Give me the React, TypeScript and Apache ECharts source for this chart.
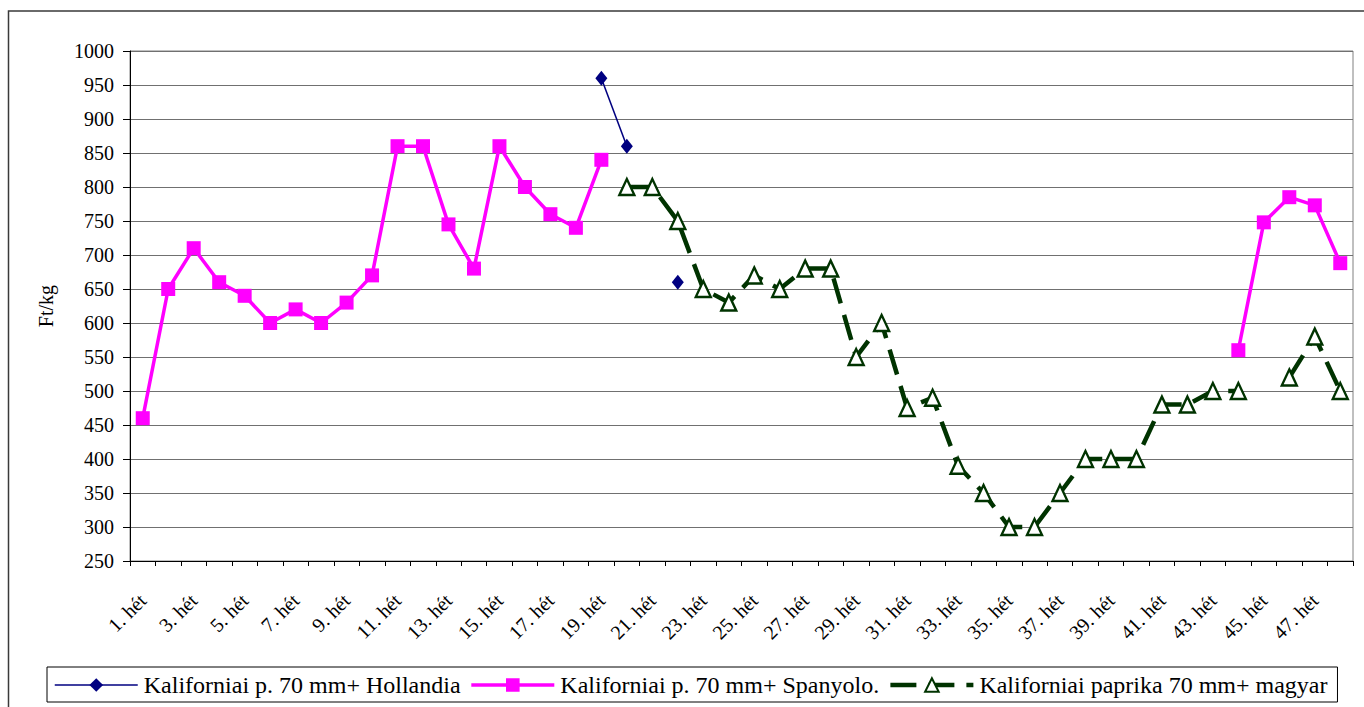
import React, { useEffect, useRef } from "react";
import * as echarts from "echarts";

const weeks: string[] = Array.from({ length: 48 }, (_, i) => `${i + 1}. hét`);

const hollandia: (number | null)[] = [
  null, null, null, null, null, null, null, null, null, null, null, null,
  null, null, null, null, null, null, 960, 860, null, 660, null, null,
  null, null, null, null, null, null, null, null, null, null, null, null,
  null, null, null, null, null, null, null, null, null, null, null, null,
];

const spanyolo: (number | null)[] = [
  460, 650, 710, 660, 640, 600, 620, 600, 630, 670, 860, 860,
  745, 680, 860, 800, 760, 740, 840, null, null, null, null, null,
  null, null, null, null, null, null, null, null, null, null, null, null,
  null, null, null, null, null, null, null, 560, 748, 785, 773, 688,
];

const magyar: (number | null)[] = [
  null, null, null, null, null, null, null, null, null, null, null, null,
  null, null, null, null, null, null, null, 800, 800, 750, 650, 630,
  670, 650, 680, 680, 550, 600, 475, 490, 390, 350, 300, 300,
  350, 400, 400, 400, 480, 480, 500, 500, null, 520, 580, 500,
];

const seriesNames = [
  "Kaliforniai p. 70 mm+ Hollandia",
  "Kaliforniai p. 70 mm+ Spanyolo.",
  "Kaliforniai paprika 70 mm+ magyar",
];

const FONT = "Liberation Serif";

export default function App() {
  const ref = useRef<HTMLDivElement>(null);
  useEffect(() => {
    if (!ref.current) return;
    const chart = echarts.init(ref.current, undefined, { renderer: "svg" });
    chart.setOption({
      animation: false,
      backgroundColor: "#ffffff",
      textStyle: { fontFamily: FONT, color: "#000" },
      graphic: [
        {
          type: "rect",
          shape: { x: 8.5, y: 11, width: 1400, height: 720 },
          style: { fill: "none", stroke: "#3a3a3a", lineWidth: 1.5 },
          silent: true,
        },
      ],
      grid: {
        left: 130,
        top: 51,
        right: 11,
        bottom: 146,
        show: true,
        borderColor: "#808080",
        borderWidth: 1,
      },
      legend: {
        left: 47,
        top: 667,
        padding: [6, 10, 5, 7],
        itemGap: 9,
        itemWidth: 83,
        itemHeight: 17,
        borderColor: "#000",
        borderWidth: 1,
        lineStyle: { width: "inherit", type: "inherit" },
        textStyle: { fontFamily: FONT, fontSize: 24, color: "#000", padding: [0, 0, 0, 1] },
        data: seriesNames,
      },
      xAxis: {
        type: "category",
        data: weeks,
        boundaryGap: true,
        axisLine: { lineStyle: { color: "#000", width: 1 } },
        axisTick: { show: true, interval: 0, length: 5, lineStyle: { color: "#000" } },
        axisLabel: {
          interval: 1,
          rotate: 45,
          margin: 36,
          fontFamily: FONT,
          fontSize: 20,
          color: "#000",
        },
        splitLine: { show: false },
      },
      yAxis: {
        type: "value",
        min: 250,
        max: 1000,
        interval: 50,
        name: "Ft/kg",
        nameLocation: "middle",
        nameRotate: 90,
        nameGap: 74,
        nameTextStyle: { fontFamily: FONT, fontSize: 20, color: "#000" },
        axisLine: { show: true, lineStyle: { color: "#000", width: 1 } },
        axisTick: { show: true, length: 7, lineStyle: { color: "#000" } },
        axisLabel: {
          fontFamily: FONT,
          fontSize: 20,
          color: "#000",
          margin: 16,
          formatter: (v: number) => String(v),
        },
        splitLine: { show: true, lineStyle: { color: "#707070", width: 1 } },
      },
      series: [
        {
          name: seriesNames[0],
          type: "line",
          data: hollandia,
          connectNulls: false,
          symbol: "diamond",
          symbolSize: [12, 15],
          lineStyle: { color: "#000080", width: 1.5 },
          itemStyle: { color: "#000080" },
          z: 3,
        },
        {
          name: seriesNames[1],
          type: "line",
          data: spanyolo,
          connectNulls: false,
          symbol: "rect",
          symbolSize: 14,
          lineStyle: { color: "#ff00ff", width: 3.5 },
          itemStyle: { color: "#ff00ff" },
          z: 2,
        },
        {
          name: seriesNames[2],
          type: "line",
          data: magyar,
          connectNulls: false,
          symbol: "triangle",
          symbolSize: [15, 16],
          lineStyle: { color: "#003300", width: 4.5, type: [26, 12] },
          itemStyle: { color: "#ffffff", borderColor: "#003300", borderWidth: 2.4 },
          z: 4,
        },
      ],
    });
    return () => chart.dispose();
  }, []);
  return (
    <div
      ref={ref}
      style={{ position: "absolute", left: 0, top: 0, width: 1364, height: 707, background: "#fff" }}
    />
  );
}
